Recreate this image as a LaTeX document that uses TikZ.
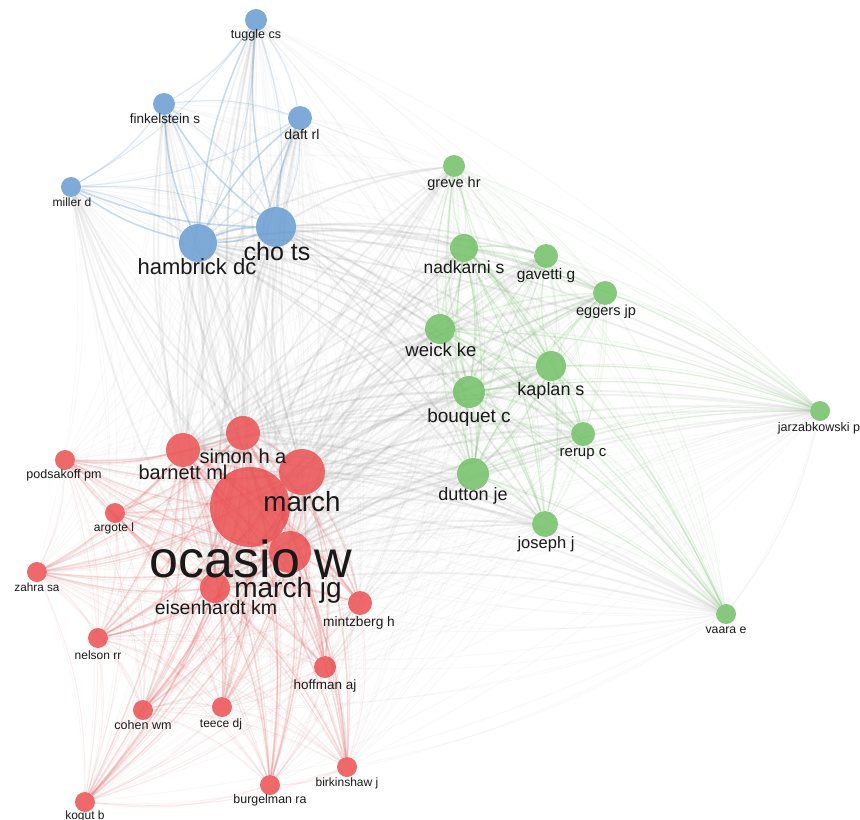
\documentclass[tikz,border=0pt]{standalone}
\usepackage{fontspec}
\setmainfont{Liberation Sans}
\pgfdeclarelayer{bg}
\pgfdeclarelayer{edges}
\pgfsetlayers{bg,edges,main}
\definecolor{cR}{RGB}{234,72,74}
\definecolor{cG}{RGB}{108,190,96}
\definecolor{cB}{RGB}{98,152,208}
\definecolor{cT}{RGB}{25,25,25}
\definecolor{cE}{RGB}{150,150,150}
\def\Rall{simon,barnett,march,ocasio,marchjg,eisen,mintz,podsak,argote,zahra,nelson,hoffman,cohen,teece,birk,burgel,kogut}
\def\Gall{greve,nadkarni,gavetti,eggers,weick,kaplan,bouquet,rerup,dutton,joseph,jarz,vaara}
\def\Ball{tuggle,finkel,daft,miller,hambrick,cho}
\def\All{tuggle,finkel,daft,miller,hambrick,cho,greve,nadkarni,gavetti,eggers,weick,kaplan,bouquet,rerup,dutton,joseph,jarz,vaara,simon,barnett,march,ocasio,marchjg,eisen,mintz,podsak,argote,zahra,nelson,hoffman,cohen,teece,birk,burgel,kogut}
\def\Rhub{ocasio,march,marchjg,simon,barnett,eisen}
\def\Ghub{nadkarni,weick,bouquet,kaplan,dutton}
\def\Bhub{hambrick,cho}
\begin{document}
\begin{tikzpicture}[x=0.75pt,y=-0.75pt,
  nd/.style={circle,inner sep=0pt,minimum size=#1*1.5pt,fill opacity=0.82,draw=none},
  rn/.style={nd=#1,fill=cR},
  gn/.style={nd=#1,fill=cG},
  bn/.style={nd=#1,fill=cB},
  lab/.style={inner sep=0pt,anchor=base,text=cT,font=\fontsize{#1}{#1}\selectfont},
  e0/.style={draw=cE,opacity=0.06,line width=0.6pt},
  eR/.style={draw=cR,opacity=0.1,line width=0.7pt},
  eG/.style={draw=cG,opacity=0.12,line width=0.7pt},
  eB/.style={draw=cB,opacity=0.22,line width=0.8pt},
  hR/.style={draw=cR,opacity=0.17,line width=1.2pt},
  hX/.style={draw=cE,opacity=0.13,line width=1.4pt},
  hB/.style={draw=cB,opacity=0.35,line width=1.2pt}]
\begin{pgfonlayer}{bg}
\fill[white] (0,0) rectangle (860,820);
\end{pgfonlayer}
\useasboundingbox (0,0) rectangle (860,820);
% blue cluster
\node[bn=11] (tuggle) at (256,20) {};
\node[bn=11] (finkel) at (164,104) {};
\node[bn=12] (daft) at (300,118) {};
\node[bn=10] (miller) at (71,187) {};
\node[bn=19] (hambrick) at (198,243) {};
\node[bn=20] (cho) at (276,227) {};
% green cluster
\node[gn=11] (greve) at (454,166) {};
\node[gn=14] (nadkarni) at (464,248) {};
\node[gn=12] (gavetti) at (546,256) {};
\node[gn=12] (eggers) at (605,293) {};
\node[gn=15] (weick) at (440,329) {};
\node[gn=15] (kaplan) at (551,366) {};
\node[gn=16] (bouquet) at (469,392) {};
\node[gn=12] (rerup) at (583,434) {};
\node[gn=16] (dutton) at (473,474) {};
\node[gn=13] (joseph) at (545,524) {};
\node[gn=10] (jarz) at (820,411) {};
\node[gn=10] (vaara) at (726,614) {};
% red cluster
\node[rn=40] (ocasio) at (250,507) {};
\node[rn=17] (simon) at (243,433) {};
\node[rn=17] (barnett) at (183,450) {};
\node[rn=23] (march) at (302,472) {};
\node[rn=21] (marchjg) at (290,552) {};
\node[rn=15] (eisen) at (215,588) {};
\node[rn=12] (mintz) at (360,603) {};
\node[rn=10] (podsak) at (65,460) {};
\node[rn=10] (argote) at (115,513) {};
\node[rn=10] (zahra) at (37,572) {};
\node[rn=10] (nelson) at (98,638) {};
\node[rn=11] (hoffman) at (325,667) {};
\node[rn=10] (cohen) at (143,710) {};
\node[rn=10] (teece) at (222,707) {};
\node[rn=10] (birk) at (347,767) {};
\node[rn=10] (burgel) at (270,785) {};
\node[rn=10] (kogut) at (85,802) {};
% edges
\begin{pgfonlayer}{edges}
\foreach \a [count=\i] in \All {
  \foreach \b [count=\j] in \All {
    \ifnum\i<\j \draw[e0] (\a) to[bend left=10] (\b); \fi
  }
}
\foreach \a [count=\i] in \Rall {
  \foreach \b [count=\j] in \Rall {
    \ifnum\i<\j \draw[eR] (\a) to[bend left=12] (\b); \fi
  }
}
\foreach \a [count=\i] in \Gall {
  \foreach \b [count=\j] in \Gall {
    \ifnum\i<\j \draw[eG] (\a) to[bend left=12] (\b); \fi
  }
}
\foreach \a [count=\i] in \Ball {
  \foreach \b [count=\j] in \Ball {
    \ifnum\i<\j \draw[eB] (\a) to[bend left=12] (\b); \fi
  }
}
\foreach \a in \Rhub {
  \foreach \b in \Rall { \draw[hR] (\a) to[bend left=10] (\b); }
  \foreach \b in \Gall { \draw[hX] (\a) to[bend left=10] (\b); }
  \foreach \b in \Ball { \draw[hX] (\a) to[bend left=10] (\b); }
}
\foreach \a in \Bhub {
  \foreach \b in \Gall { \draw[hX] (\a) to[bend left=10] (\b); }
  \foreach \b in \Ball { \draw[hB] (\a) to[bend left=10] (\b); }
}
\foreach \a in \Ghub {
  \foreach \b in \Gall { \draw[eG,opacity=0.18,line width=1pt] (\a) to[bend left=10] (\b); }
}
\end{pgfonlayer}
% labels
\node[lab=9.4pt] (tuggleL) at (256,39) {tuggle cs};
\node[lab=10.1pt] (finkelL) at (165,124) {finkelstein s};
\node[lab=10.5pt] (daftL) at (302,140) {daft rl};
\node[lab=9pt] (millerL) at (72,206) {miller d};
\node[lab=16.5pt] (hambrickL) at (197,274) {hambrick dc};
\node[lab=18.75pt] (choL) at (277,260) {cho ts};
\node[lab=10.9pt] (greveL) at (454,187) {greve hr};
\node[lab=13.1pt] (nadkarniL) at (464,273) {nadkarni s};
\node[lab=11.6pt] (gavettiL) at (546,279) {gavetti g};
\node[lab=10.9pt] (eggersL) at (606,315) {eggers jp};
\node[lab=13.9pt] (weickL) at (441,356) {weick ke};
\node[lab=13.5pt] (kaplanL) at (551,395) {kaplan s};
\node[lab=14.25pt] (bouquetL) at (469,422) {bouquet c};
\node[lab=11.25pt] (rerupL) at (583,456) {rerup c};
\node[lab=13.5pt] (duttonL) at (473,500) {dutton je};
\node[lab=12.4pt] (josephL) at (546,548) {joseph j};
\node[lab=9.4pt] (jarzL) at (819,431) {jarzabkowski p};
\node[lab=9.2pt] (vaaraL) at (726,633) {vaara e};
\node[lab=15pt] (simonL) at (243,463) {simon h a};
\node[lab=15pt] (barnettL) at (183,479) {barnett ml};
\node[lab=20.8pt] (marchL) at (302,511) {march};
\node[lab=39pt] (ocasioL) at (251,577) {ocasio w};
\node[lab=21pt] (marchjgL) at (288,597) {march jg};
\node[lab=14.6pt] (eisenL) at (216,614) {eisenhardt km};
\node[lab=10.3pt] (mintzL) at (359,626) {mintzberg h};
\node[lab=9.4pt] (podsakL) at (64,478) {podsakoff pm};
\node[lab=9pt] (argoteL) at (114,531) {argote l};
\node[lab=8.8pt] (zahraL) at (37,591) {zahra sa};
\node[lab=9pt] (nelsonL) at (98,659) {nelson rr};
\node[lab=10.1pt] (hoffmanL) at (325,689) {hoffman aj};
\node[lab=9.4pt] (cohenL) at (143,729) {cohen wm};
\node[lab=9pt] (teeceL) at (221,727) {teece dj};
\node[lab=9pt] (birkL) at (347,786) {birkinshaw j};
\node[lab=9.3pt] (burgelL) at (270,803) {burgelman ra};
\node[lab=9pt] (kogutL) at (85,819) {kogut b};
\end{tikzpicture}
\end{document}
